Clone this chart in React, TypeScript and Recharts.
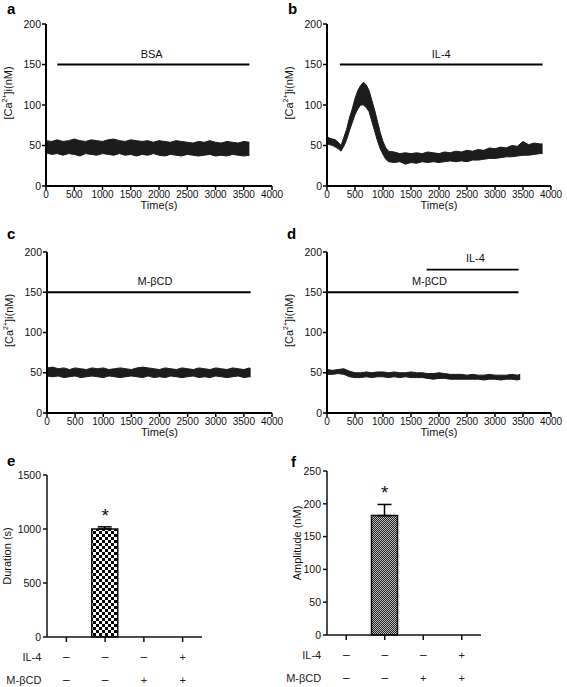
import React from 'react';
import {
  ComposedChart,
  Area,
  XAxis,
  YAxis,
  ReferenceLine,
  ReferenceDot,
  BarChart,
  Bar,
  ErrorBar,
} from 'recharts';

const FONT = '"Liberation Sans", Arial, Helvetica, sans-serif';
const INK = '#111';

const TIME_TICKS = [0, 500, 1000, 1500, 2000, 2500, 3000, 3500, 4000];
const CA_TICKS = [0, 50, 100, 150, 200];

// a: BSA trace, envelope of the noisy [Ca2+]i signal
const A_T = [0, 100, 200, 300, 400, 500, 600, 700, 800, 900, 1000, 1100, 1200, 1300, 1400, 1500, 1600, 1700, 1800, 1900, 2000, 2100, 2200, 2300, 2400, 2500, 2600, 2700, 2800, 2900, 3000, 3100, 3200, 3300, 3400, 3500, 3600];
const A_LO = [41, 39, 40, 38, 40, 39, 37, 40, 39, 38, 40, 39, 38, 40, 38, 39, 37, 39, 38, 40, 38, 37, 39, 38, 37, 39, 38, 37, 38, 39, 37, 38, 37, 39, 38, 37, 38];
const A_HI = [56, 55, 57, 55, 56, 58, 56, 55, 57, 56, 55, 57, 58, 56, 55, 57, 56, 55, 56, 54, 56, 55, 54, 56, 55, 54, 53, 55, 54, 56, 54, 53, 55, 54, 53, 55, 54];

// b: IL-4 trace
const B_T = [0, 50, 100, 150, 200, 250, 300, 350, 400, 450, 500, 550, 600, 650, 700, 750, 800, 850, 900, 950, 1000, 1050, 1100, 1200, 1300, 1400, 1500, 1600, 1700, 1800, 1900, 2000, 2100, 2200, 2300, 2400, 2500, 2600, 2700, 2800, 2900, 3000, 3100, 3200, 3300, 3400, 3500, 3600, 3700, 3800, 3850];
const B_LO = [52, 51, 50, 48, 46, 43, 49, 57, 68, 78, 88, 95, 100, 100, 97, 92, 80, 68, 56, 46, 39, 33, 30, 29, 30, 27, 29, 28, 30, 29, 30, 29, 30, 31, 30, 31, 30, 32, 32, 33, 34, 34, 35, 36, 36, 37, 38, 38, 39, 40, 40];
const B_HI = [61, 59, 58, 57, 54, 50, 60, 70, 84, 95, 108, 118, 124, 128, 125, 118, 106, 94, 80, 66, 55, 47, 43, 42, 40, 41, 40, 41, 40, 42, 41, 40, 42, 41, 43, 42, 44, 43, 45, 44, 47, 46, 48, 47, 50, 49, 55, 51, 53, 52, 52];

// c: M-βCD trace
const C_T = [0, 100, 200, 300, 400, 500, 600, 700, 800, 900, 1000, 1100, 1200, 1300, 1400, 1500, 1600, 1700, 1800, 1900, 2000, 2100, 2200, 2300, 2400, 2500, 2600, 2700, 2800, 2900, 3000, 3100, 3200, 3300, 3400, 3500, 3600, 3620];
const C_LO = [46, 45, 46, 44, 45, 46, 44, 45, 46, 45, 44, 46, 45, 44, 45, 46, 45, 44, 46, 44, 45, 44, 46, 45, 44, 45, 46, 44, 45, 44, 46, 45, 44, 45, 46, 44, 45, 45];
const C_HI = [56, 57, 55, 56, 54, 56, 55, 54, 56, 55, 56, 54, 55, 56, 55, 54, 56, 57, 56, 55, 54, 56, 55, 54, 56, 55, 54, 56, 55, 54, 56, 55, 54, 56, 55, 54, 56, 55];

// d: M-βCD then IL-4 trace
const D_T = [0, 100, 200, 300, 400, 500, 600, 700, 800, 900, 1000, 1100, 1200, 1300, 1400, 1500, 1600, 1700, 1800, 1900, 2000, 2100, 2200, 2300, 2400, 2500, 2600, 2700, 2800, 2900, 3000, 3100, 3200, 3300, 3400, 3450];
const D_LO = [48, 48, 49, 48, 45, 44, 44, 45, 44, 45, 45, 44, 45, 44, 45, 44, 44, 44, 43, 42, 43, 43, 42, 42, 42, 42, 42, 42, 41, 42, 42, 41, 42, 42, 41, 42];
const D_HI = [54, 53, 54, 55, 52, 50, 50, 51, 50, 51, 51, 50, 51, 50, 50, 51, 50, 50, 49, 49, 50, 49, 48, 48, 48, 47, 48, 47, 47, 48, 47, 47, 47, 48, 47, 48];

// treatment bars drawn above the traces
const A_MARKERS = [{ from: 200, to: 3600, y: 150 }];
const A_NOTES = [{ text: 'BSA', x: 1870, y: 163 }];
const B_MARKERS = [{ from: 230, to: 3850, y: 150 }];
const B_NOTES = [{ text: 'IL-4', x: 2040, y: 163 }];
const C_MARKERS = [{ from: 0, to: 3620, y: 150 }];
const C_NOTES = [{ text: 'M-βCD', x: 1920, y: 164 }];
const D_MARKERS = [{ from: 0, to: 3420, y: 150 }, { from: 1780, to: 3420, y: 178 }];
const D_NOTES = [{ text: 'M-βCD', x: 1830, y: 164 }, { text: 'IL-4', x: 2650, y: 192 }];

// e / f summary bars
const GROUPS = ['g1', 'g2', 'g3', 'g4'];
const IL4_SIGNS = ['–', '–', '–', '+'];
const MBCD_SIGNS = ['–', '–', '+', '+'];
const SIG = ['', '*', '', ''];
const DURATION = [0, 1000, 0, 0];
const DURATION_ERR = [0, 20, 0, 0];
const AMPLITUDE = [0, 182, 0, 0];
const AMPLITUDE_ERR = [0, 17, 0, 0];
const DURATION_TICKS = [0, 500, 1000, 1500];
const AMPLITUDE_TICKS = [0, 50, 100, 150, 200, 250];

type Marker = { from: number; to: number; y: number };
type Note = { text: string; x: number; y: number };
type Margin = { top: number; right: number; bottom: number; left: number };

const toBand = (t: number[], lo: number[], hi: number[]) =>
  t.map((x, i) => ({ t: x, band: [lo[i], hi[i]] }));

const toBars = (values: number[], errs: number[]) =>
  GROUPS.map((g, i) => ({ cat: g, v: values[i], err: [0, errs[i]], sig: SIG[i] }));

const CaTitle = ({ viewBox }: any) => {
  const cx = viewBox.x + viewBox.width - 38;
  const cy = viewBox.y + viewBox.height / 2 - 12;
  return (
    <text
      x={cx}
      y={cy}
      transform={`rotate(-90 ${cx} ${cy})`}
      textAnchor="middle"
      dominantBaseline="central"
      fontSize={11}
      fill={INK}
    >
      [Ca<tspan dy={-4} fontSize={7}>2+</tspan>
      <tspan dy={4}>]i(nM)</tspan>
    </text>
  );
};

const TimeTitle = ({ viewBox }: any) => (
  <text
    x={viewBox.x + viewBox.width / 2}
    y={viewBox.y + 19}
    textAnchor="middle"
    dominantBaseline="central"
    fontSize={11}
    fill={INK}
  >
    Time(s)
  </text>
);

const SideTitle = ({ viewBox, text, dx, dy }: any) => {
  const cx = viewBox.x + viewBox.width - dx;
  const cy = viewBox.y + viewBox.height / 2 + dy;
  return (
    <text
      x={cx}
      y={cy}
      transform={`rotate(-90 ${cx} ${cy})`}
      textAnchor="middle"
      dominantBaseline="central"
      fontSize={11}
      fill={INK}
    >
      {text}
    </text>
  );
};

const SignTick = (p: any) => {
  const { x, y, index } = p;
  const r1 = y + 12.5;
  const r2 = y + 35.5;
  return (
    <g fill="#222">
      <text x={x} y={r1} textAnchor="middle" dominantBaseline="central" fontSize={IL4_SIGNS[index] === '+' ? 11 : 12}>
        {IL4_SIGNS[index]}
      </text>
      <text x={x} y={r2} textAnchor="middle" dominantBaseline="central" fontSize={MBCD_SIGNS[index] === '+' ? 11 : 12}>
        {MBCD_SIGNS[index]}
      </text>
      {index === 0 && (
        <>
          <text x={x - 25} y={r1} textAnchor="end" dominantBaseline="central" fontSize={11}>IL-4</text>
          <text x={x - 25} y={r2} textAnchor="end" dominantBaseline="central" fontSize={11}>M-βCD</text>
        </>
      )}
    </g>
  );
};

function TracePanel(props: {
  left: number;
  top: number;
  width: number;
  height: number;
  margin: Margin;
  data: { t: number; band: number[] }[];
  markers: Marker[];
  notes: Note[];
}) {
  const { left, top, width, height, margin, data, markers, notes } = props;
  return (
    <div style={{ position: 'absolute', left, top }}>
      <ComposedChart width={width} height={height} data={data} margin={margin}>
        <XAxis
          dataKey="t"
          type="number"
          domain={[0, 4000]}
          ticks={TIME_TICKS}
          interval={0}
          height={29}
          tickSize={4}
          tickMargin={1}
          axisLine={{ stroke: '#000', strokeWidth: 2 }}
          tickLine={{ stroke: '#000', strokeWidth: 1.5 }}
          tick={{ fontSize: 10, fill: INK }}
          label={(p: any) => <TimeTitle viewBox={p.viewBox} />}
        />
        <YAxis
          type="number"
          domain={[0, 200]}
          ticks={CA_TICKS}
          interval={0}
          width={40}
          tickSize={4}
          tickMargin={1}
          axisLine={{ stroke: '#000', strokeWidth: 2 }}
          tickLine={{ stroke: '#000', strokeWidth: 1.5 }}
          tick={{ fontSize: 10.5, fill: INK }}
          label={(p: any) => <CaTitle viewBox={p.viewBox} />}
        />
        <Area
          dataKey="band"
          type="linear"
          stroke="#1c1c1c"
          strokeWidth={1}
          fill="#1c1c1c"
          fillOpacity={1}
          dot={false}
          activeDot={false}
          isAnimationActive={false}
        />
        {markers.map((m, i) => (
          <ReferenceLine
            key={`m${i}`}
            segment={[{ x: m.from, y: m.y }, { x: m.to, y: m.y }]}
            stroke="#000"
            strokeWidth={1.8}
          />
        ))}
        {notes.map((n, i) => (
          <ReferenceDot
            key={`n${i}`}
            x={n.x}
            y={n.y}
            r={0}
            shape={(p: any) => (
              <text x={p.cx} y={p.cy} textAnchor="middle" dominantBaseline="central" fontSize={11} fill={INK}>
                {n.text}
              </text>
            )}
          />
        ))}
      </ComposedChart>
    </div>
  );
}

function BarPanel(props: {
  left: number;
  top: number;
  width: number;
  height: number;
  margin: Margin;
  values: number[];
  errs: number[];
  ticks: number[];
  title: string;
  titleDx: number;
  titleDy: number;
  patternId: string;
  pattern: React.ReactNode;
}) {
  const { left, top, width, height, margin, values, errs, ticks, title, titleDx, titleDy, patternId, pattern } = props;
  const data = toBars(values, errs);
  return (
    <div style={{ position: 'absolute', left, top }}>
      <BarChart width={width} height={height} data={data} margin={margin}>
        <defs>{pattern}</defs>
        <XAxis
          dataKey="cat"
          interval={0}
          height={50}
          tickSize={5}
          tickMargin={2}
          axisLine={{ stroke: '#111', strokeWidth: 1.5 }}
          tickLine={{ stroke: '#111', strokeWidth: 1.5 }}
          tick={(p: any) => <SignTick {...p} />}
        />
        <YAxis
          type="number"
          domain={[0, ticks[ticks.length - 1]]}
          ticks={ticks}
          interval={0}
          width={40}
          tickSize={4}
          tickMargin={2}
          axisLine={{ stroke: '#111', strokeWidth: 1.5 }}
          tickLine={{ stroke: '#111', strokeWidth: 1.5 }}
          tick={{ fontSize: 10.5, fill: INK }}
          label={(p: any) => <SideTitle viewBox={p.viewBox} text={title} dx={titleDx} dy={titleDy} />}
        />
        <Bar
          dataKey="v"
          barSize={26}
          fill={`url(#${patternId})`}
          stroke="#111"
          strokeWidth={1.5}
          isAnimationActive={false}
        >
          <ErrorBar dataKey="err" direction="y" width={7} stroke="#000" strokeWidth={1.5} />
        </Bar>
        {data
          .filter((d) => d.sig)
          .map((d) => (
            <ReferenceDot
              key={`s${d.cat}`}
              x={d.cat}
              y={d.v + d.err[1]}
              r={0}
              shape={(p: any) => (
                <text x={p.cx} y={p.cy - 5} textAnchor="middle" fontSize={19} fill={INK}>
                  {d.sig}
                </text>
              )}
            />
          ))}
      </BarChart>
    </div>
  );
}

const PANEL_LETTERS = [
  { t: 'a', x: 7, y: 14 },
  { t: 'b', x: 288, y: 14 },
  { t: 'c', x: 7, y: 239 },
  { t: 'd', x: 287, y: 239 },
  { t: 'e', x: 7, y: 466 },
  { t: 'f', x: 291, y: 467 },
];

export default function App() {
  return (
    <div
      style={{
        position: 'absolute',
        left: 0,
        top: 0,
        width: 567,
        height: 687,
        background: '#fff',
        fontFamily: FONT,
        overflow: 'hidden',
      }}
    >
      <TracePanel
        left={0}
        top={0}
        width={283}
        height={215}
        margin={{ top: 24, right: 11, bottom: 0, left: 6 }}
        data={toBand(A_T, A_LO, A_HI)}
        markers={A_MARKERS}
        notes={A_NOTES}
      />
      <TracePanel
        left={283}
        top={0}
        width={284}
        height={215}
        margin={{ top: 24, right: 16, bottom: 0, left: 4 }}
        data={toBand(B_T, B_LO, B_HI)}
        markers={B_MARKERS}
        notes={B_NOTES}
      />
      <TracePanel
        left={0}
        top={228}
        width={283}
        height={215}
        margin={{ top: 24, right: 11, bottom: 1, left: 7 }}
        data={toBand(C_T, C_LO, C_HI)}
        markers={C_MARKERS}
        notes={C_NOTES}
      />
      <TracePanel
        left={283}
        top={228}
        width={284}
        height={215}
        margin={{ top: 24, right: 16, bottom: 1, left: 4 }}
        data={toBand(D_T, D_LO, D_HI)}
        markers={D_MARKERS}
        notes={D_NOTES}
      />
      <BarPanel
        left={0}
        top={450}
        width={283}
        height={237}
        margin={{ top: 25, right: 81, bottom: 0, left: 7 }}
        values={DURATION}
        errs={DURATION_ERR}
        ticks={DURATION_TICKS}
        title="Duration (s)"
        titleDx={40}
        titleDy={0}
        patternId="checkE"
        pattern={
          <pattern id="checkE" width={6} height={6} patternUnits="userSpaceOnUse">
            <rect width={6} height={6} fill="#fff" />
            <rect width={3} height={3} fill="#000" />
            <rect x={3} y={3} width={3} height={3} fill="#000" />
          </pattern>
        }
      />
      <BarPanel
        left={283}
        top={450}
        width={284}
        height={237}
        margin={{ top: 21, right: 86, bottom: 2, left: 4 }}
        values={AMPLITUDE}
        errs={AMPLITUDE_ERR}
        ticks={AMPLITUDE_TICKS}
        title="Amplitude (nM)"
        titleDx={30}
        titleDy={-10}
        patternId="checkF"
        pattern={
          <pattern id="checkF" width={2} height={2} patternUnits="userSpaceOnUse">
            <rect width={2} height={2} fill="#bdbdbd" />
            <rect width={1} height={1} fill="#222" />
            <rect x={1} y={1} width={1} height={1} fill="#222" />
          </pattern>
        }
      />
      <svg
        width={567}
        height={687}
        style={{ position: 'absolute', left: 0, top: 0, pointerEvents: 'none' }}
      >
        {PANEL_LETTERS.map((l) => (
          <text key={l.t} x={l.x} y={l.y} fontSize={15} fontWeight="bold" fill="#000">
            {l.t}
          </text>
        ))}
      </svg>
    </div>
  );
}
